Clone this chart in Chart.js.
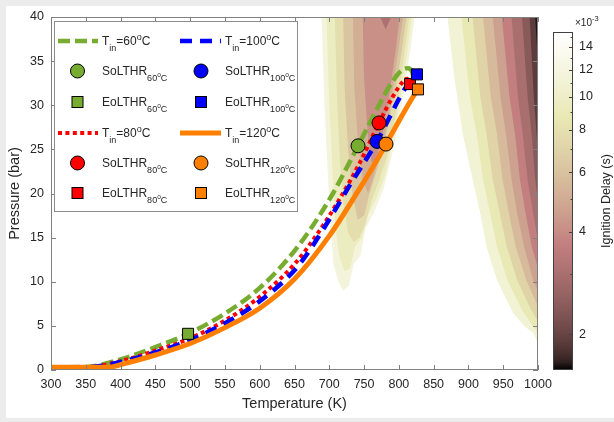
<!DOCTYPE html>
<html>
<head>
<meta charset="utf-8">
<script src="https://cdn.jsdelivr.net/npm/chart.js@4.4.0/dist/chart.umd.min.js"></script>
<style>
  html, body { margin: 0; padding: 0; background: #ececec; }
  #fig { position: absolute; left: 6px; top: 6px; width: 608px; height: 412px; background: #fff; }
  #main { position: absolute; left: 0; top: 0; width: 614px; height: 422px; }
  #cbar { position: absolute; left: 540px; top: 0; width: 74px; height: 422px; }
</style>
</head>
<body>
<div id="fig"></div>
<canvas id="main" width="614" height="422"></canvas>
<canvas id="cbar" width="74" height="422"></canvas>
<script>
var FONT = "'Liberation Sans', Arial, Helvetica, sans-serif";
Chart.defaults.font.family = FONT;
Chart.defaults.font.size = 12.5;
Chart.defaults.color = '#262626';

// compression traces: temperature (K) / pressure (bar), one pair per inlet temperature
var temp60 = [300, 350, 400, 450, 497, 550, 600, 650, 700, 741.3, 770, 790, 805, 813, 819, 822];
var pres60 = [0.3, 0.35, 1.2, 2.6, 4.1, 6.4, 9.3, 13.5, 19.3, 25.4, 29.8, 32.6, 34.0, 34.2, 33.8, 33.0];
var temp80 = [300, 350, 400, 450, 500, 550, 600, 650, 680, 715, 744, 771.5, 790, 805, 812, 816];
var pres80 = [0.25, 0.3, 1.0, 2.2, 3.6, 5.6, 8.3, 12.0, 15.1, 19.4, 23.5, 28.0, 30.8, 32.6, 33.0, 32.4];
var temp100 = [300, 350, 400, 450, 500, 550, 600, 650, 672, 705, 730, 754, 768.6, 787, 800, 815, 826];
var pres100 = [0.25, 0.3, 0.9, 2.0, 3.4, 5.3, 7.8, 11.3, 13.6, 17.7, 21.0, 24.0, 25.9, 28.7, 30.7, 32.6, 33.5];
var temp120 = [300, 385, 400, 450, 500, 550, 600, 650, 700, 740, 773, 781.5, 800, 820, 827.5];
var pres120 = [0.3, 0.3, 0.6, 1.7, 3.0, 4.8, 7.0, 10.3, 15.2, 20.1, 24.4, 25.6, 28.2, 30.9, 31.8];

// start / end of low temperature heat release, order 60, 80, 100, 120 C
var soTemp = [741.3, 771.5, 768.6, 781.5];
var soPres = [25.4, 28.0, 25.9, 25.6];
var eoTemp = [497, 816, 826, 827.5];
var eoPres = [4.1, 32.4, 33.5, 31.8];

var inletC = ['60', '80', '100', '120'];
var traceColor = ['#77ac30', '#ff0000', '#0000ff', '#ff8000'];
var traceDash = [[12, 5], [4, 3.4], [12, 8], []];
var traceWidth = [4.5, 4, 4.5, 5];

// ignition delay (ms): colorbar range, ticks and contour band levels
var cbMin = 1.57, cbMax = 15.5;
var cbTicks = [2, 4, 6, 8, 10, 12, 14];
var cbMinor = [2, 3, 4, 5, 6, 7, 8, 9, 10, 11, 12, 13, 14, 15];
var highTLevel = [11.0, 8.8, 7.0, 5.6, 4.6, 3.7, 3.0, 2.4, 1.9, 1.6];
var lowTLevel = [11.6, 9.5, 7.8, 6.2, 5.1, 4.1, 3.1];

// band outlines [T, P], high temperature side (closed along the right edge)
var highTBands = [
  [[870,40],[880,33],[892,26.7],[906,21.6],[917,17.8],[926,14],[941,10.2],[964,6.5],[980,5.0],[993,4.2],[1000,3.1]],
  [[890,40],[902,31],[912,26.7],[921,21.6],[931,17.8],[941,14],[956,10.2],[977,6.8],[990,5.3],[1000,4.2]],
  [[906,40],[917,31],[926,26.7],[935,21.6],[945,17.8],[955,14],[970,10.2],[989,7.0],[1000,5.5]],
  [[921,40],[932,31],[941,26.7],[949,21.6],[958,17.8],[968,14],[983,10.2],[1000,7.2]],
  [[935,40],[946,31],[954,26.7],[962,21.6],[970,17.8],[980,14],[993,10.2],[1000,9.0]],
  [[948,40],[959,31],[967,26.7],[974,21.6],[982,17.8],[991,14],[1000,11.5]],
  [[962,40],[971,31],[978,26.7],[985,21.6],[993,17.8],[1000,14.6]],
  [[977,40],[985,31],[991,26.7],[996,21.6],[1000,19]],
  [[988,40],[994,31],[998,26.7],[1000,24.5]],
  [[996,40],[999,36],[1000,34]]
];
// band outlines [T, P], low temperature plume
var lowTBands = [
  [[689,40],[693,30],[698,22],[702,16],[706,12],[713,10],[720,9],[728,9.5],[735,12],[745,13],[752,16],[765,18],[778,20.5],[792,25],[806,31],[816,36],[823,40]],
  [[696,40],[700,30],[705,22],[709,16],[714,13],[722,11.2],[730,11.5],[737,14],[747,15],[755,17.5],[768,19.5],[780,22],[794,27],[807,33],[819,40]],
  [[708,40],[711,31],[715,24],[720,19],[727,15.5],[735,14.5],[743,15],[752,16.5],[760,19],[772,21.5],[784,24.5],[798,30],[815,40]],
  [[720,40],[722,32],[727,25],[733,20],[741,17],[750,17.5],[758,20],[770,23],[783,27],[800,34],[811,40]],
  [[734,40],[736,32],[741,26],[748,21.5],[756,20],[764,22],[775,25],[786,29],[797,35],[806,40]],
  [[748,40],[750,33],[755,27],[761,23.5],[768,24],[776,26.5],[786,31],[795,36],[801,40]],
  [[773,40],[781,38.6],[789,40]]
];

// MATLAB style "pink" colormap
function pinkMap(t) {
  t = Math.max(0, Math.min(1, t));
  var hr = Math.min(1, t / 0.375);
  var hg = Math.max(0, Math.min(1, (t - 0.375) / 0.375));
  var hb = Math.max(0, (t - 0.75) / 0.25);
  var c = [hr, hg, hb].map(function (h) { return Math.round(255 * Math.sqrt((2 * t + h) / 3)); });
  return 'rgb(' + c.join(',') + ')';
}
function levelColor(v) {
  return pinkMap(Math.log(v / cbMin) / Math.log(cbMax / cbMin));
}

function xy(ts, ps) {
  return ts.map(function (t, i) { return { x: t, y: ps[i] }; });
}

var datasets = [];

highTBands.forEach(function (pts, k) {
  datasets.push({
    data: pts.concat([[1000, 40]]).map(function (p) { return { x: p[0], y: p[1] }; }),
    fill: 'shape', backgroundColor: levelColor(highTLevel[k]),
    borderColor: 'rgba(0,0,0,0)', borderWidth: 0, pointRadius: 0, tension: 0,
    order: 100 - k
  });
});
lowTBands.forEach(function (pts, k) {
  datasets.push({
    data: pts.map(function (p) { return { x: p[0], y: p[1] }; }),
    fill: 'shape', backgroundColor: levelColor(lowTLevel[k]),
    borderColor: 'rgba(0,0,0,0)', borderWidth: 0, pointRadius: 0, tension: 0,
    order: 80 - k
  });
});

var traceT = [temp60, temp80, temp100, temp120];
var traceP = [pres60, pres80, pres100, pres120];
traceT.forEach(function (ts, g) {
  datasets.push({
    data: xy(ts, traceP[g]),
    borderColor: traceColor[g], borderWidth: traceWidth[g], borderDash: traceDash[g],
    borderCapStyle: 'butt', pointRadius: 0, fill: false,
    cubicInterpolationMode: 'monotone', order: 20 - g
  });
});
inletC.forEach(function (c, g) {
  datasets.push({
    data: [{ x: soTemp[g], y: soPres[g] }], showLine: false,
    pointStyle: 'circle', pointRadius: 7, pointBorderWidth: 1,
    pointBackgroundColor: traceColor[g], pointBorderColor: '#000', order: 8 - 2 * g
  });
  datasets.push({
    data: [{ x: eoTemp[g], y: eoPres[g] }], showLine: false,
    pointStyle: 'rect', pointRadius: 7.8, pointBorderWidth: 1,
    pointBackgroundColor: traceColor[g], pointBorderColor: '#000', order: 7 - 2 * g
  });
});

function richText(ctx, x, y, parts) {
  parts.forEach(function (p) {
    var s = p[1];
    var size = s === 'n' ? 12 : (s === 'bp' ? 6.5 : 9);
    var dy = s === 'b' ? 6 : (s === 'p' ? -5.5 : (s === 'bp' ? 1.5 : 0));
    ctx.font = size + 'px ' + FONT;
    ctx.fillText(p[0], x, y + dy);
    x += ctx.measureText(p[0]).width;
  });
}

// legend grid: column / first row per inlet temperature
var legCol = [0, 0, 1, 1];
var legRow = [0, 3, 0, 3];
var legBase = [45, 75, 106, 137, 167, 197];

var axisFrame = {
  id: 'axisFrame',
  afterDatasetsDraw: function (chart) {
    var ctx = chart.ctx, a = chart.chartArea, xs = chart.scales.x, ys = chart.scales.y;
    ctx.save();
    ctx.strokeStyle = '#808080';
    ctx.lineWidth = 1;
    ctx.beginPath();
    xs.ticks.forEach(function (t) {
      var px = Math.round(xs.getPixelForValue(t.value)) + 0.5;
      ctx.moveTo(px, a.bottom); ctx.lineTo(px, a.bottom - 5);
      ctx.moveTo(px, a.top); ctx.lineTo(px, a.top + 5);
    });
    ys.ticks.forEach(function (t) {
      var py = Math.round(ys.getPixelForValue(t.value)) + 0.5;
      ctx.moveTo(a.left, py); ctx.lineTo(a.left + 5, py);
      ctx.moveTo(a.right, py); ctx.lineTo(a.right - 5, py);
    });
    ctx.stroke();
    ctx.strokeRect(a.left + 0.5, a.top + 0.5, a.right - a.left - 1, a.bottom - a.top - 1);

    // legend
    ctx.fillStyle = '#fff';
    ctx.fillRect(54.5, 21.5, 243, 190);
    ctx.strokeStyle = '#8c8c8c';
    ctx.strokeRect(54.5, 21.5, 243, 190);
    var lineX0 = [58, 180], lineX1 = [98, 221], markX = [77.5, 201], textX = [102, 225];
    inletC.forEach(function (c, g) {
      var col = legCol[g], r = legRow[g];
      var y0 = legBase[r], y1 = legBase[r + 1], y2 = legBase[r + 2];
      ctx.save();
      ctx.strokeStyle = traceColor[g];
      ctx.lineWidth = traceWidth[g];
      ctx.lineCap = 'butt';
      ctx.setLineDash(traceDash[g]);
      ctx.beginPath();
      ctx.moveTo(lineX0[col], y0 - 4);
      ctx.lineTo(lineX1[col], y0 - 4);
      ctx.stroke();
      ctx.restore();

      ctx.fillStyle = traceColor[g];
      ctx.strokeStyle = '#000';
      ctx.lineWidth = 1;
      ctx.beginPath();
      ctx.arc(markX[col], y1 - 4, 7, 0, Math.PI * 2);
      ctx.fill(); ctx.stroke();
      ctx.fillRect(markX[col] - 5.5, y2 - 9.5, 11, 11);
      ctx.strokeRect(markX[col] - 5.5, y2 - 9.5, 11, 11);

      ctx.fillStyle = '#262626';
      ctx.textAlign = 'left';
      ctx.textBaseline = 'alphabetic';
      richText(ctx, textX[col], y0, [['T', 'n'], ['in', 'b'], ['=' + c, 'n'], ['o', 'p'], ['C', 'n']]);
      richText(ctx, textX[col], y1, [['SoLTHR', 'n'], [c, 'b'], ['o', 'bp'], ['C', 'b']]);
      richText(ctx, textX[col], y2, [['EoLTHR', 'n'], [c, 'b'], ['o', 'bp'], ['C', 'b']]);
    });
    ctx.restore();
  }
};

new Chart(document.getElementById('main'), {
  type: 'line',
  data: { datasets: datasets },
  options: {
    responsive: false,
    animation: false,
    events: [],
    layout: { padding: { left: 0, right: 76, top: 17, bottom: 0 } },
    plugins: { legend: { display: false }, tooltip: { enabled: false } },
    scales: {
      x: {
        type: 'linear', min: 300, max: 1000,
        ticks: {
          stepSize: 50, padding: 7, maxRotation: 0, minRotation: 0, autoSkip: false,
          callback: function (v) { return String(v); }
        },
        grid: { display: false, drawTicks: false },
        border: { display: false },
        title: { display: true, text: 'Temperature (K)', font: { size: 14.5 }, padding: { top: 0, bottom: 9 } },
        afterFit: function (s) { s.height = 52; }
      },
      y: {
        type: 'linear', min: 0, max: 40,
        ticks: { stepSize: 5, padding: 7, callback: function (v) { return String(v); } },
        grid: { display: false, drawTicks: false },
        border: { display: false },
        title: { display: true, text: 'Pressure (bar)', font: { size: 14.5 }, padding: { top: 6, bottom: 0 } },
        afterFit: function (s) { s.width = 51; }
      }
    }
  },
  plugins: [axisFrame]
});

function barGradient(context) {
  var area = context.chart.chartArea;
  if (!area) return '#999';
  var g = context.chart.ctx.createLinearGradient(0, area.bottom, 0, area.top);
  for (var i = 0; i <= 40; i++) g.addColorStop(i / 40, pinkMap(i / 40));
  return g;
}

var barFrame = {
  id: 'barFrame',
  afterDatasetsDraw: function (chart) {
    var ctx = chart.ctx, a = chart.chartArea, ys = chart.scales.y;
    ctx.save();
    ctx.strokeStyle = '#404040';
    ctx.lineWidth = 1;
    ctx.beginPath();
    cbMinor.forEach(function (v) {
      var py = Math.round(ys.getPixelForValue(v)) + 0.5;
      var len = cbTicks.indexOf(v) >= 0 ? 4 : 2.5;
      ctx.moveTo(a.right, py); ctx.lineTo(a.right - len, py);
    });
    ctx.stroke();
    ctx.strokeRect(a.left + 0.5, a.top + 0.5, a.right - a.left - 1, a.bottom - a.top - 1);

    ctx.fillStyle = '#262626';
    ctx.textAlign = 'left';
    ctx.textBaseline = 'alphabetic';
    ctx.font = '10px ' + FONT;
    ctx.fillText('\u00d710', 35, 26);
    var w = ctx.measureText('\u00d710').width;
    ctx.font = '7.5px ' + FONT;
    ctx.fillText('-3', 35 + w, 21);

    ctx.translate(69.5, (a.top + a.bottom) / 2);
    ctx.rotate(-Math.PI / 2);
    ctx.textAlign = 'center';
    ctx.font = '12.5px ' + FONT;
    ctx.fillText('Ignition Delay (s)', 0, 0);
    ctx.restore();
  }
};

new Chart(document.getElementById('cbar'), {
  type: 'bar',
  data: {
    labels: [''],
    datasets: [{
      data: [[cbMin, cbMax]], backgroundColor: barGradient, borderWidth: 0,
      barPercentage: 1, categoryPercentage: 1
    }]
  },
  options: {
    responsive: false,
    animation: false,
    events: [],
    layout: { padding: { left: 13, right: 0, top: 32, bottom: 52 } },
    plugins: { legend: { display: false }, tooltip: { enabled: false } },
    scales: {
      x: { display: false },
      y: {
        type: 'logarithmic', position: 'right', min: cbMin, max: cbMax,
        afterBuildTicks: function (s) { s.ticks = cbTicks.map(function (v) { return { value: v }; }); },
        ticks: { padding: 6, autoSkip: false, callback: function (v) { return String(v); } },
        grid: { display: false, drawTicks: false },
        border: { display: false },
        afterFit: function (s) { s.width = 41; }
      }
    }
  },
  plugins: [barFrame]
});
</script>
</body>
</html>
